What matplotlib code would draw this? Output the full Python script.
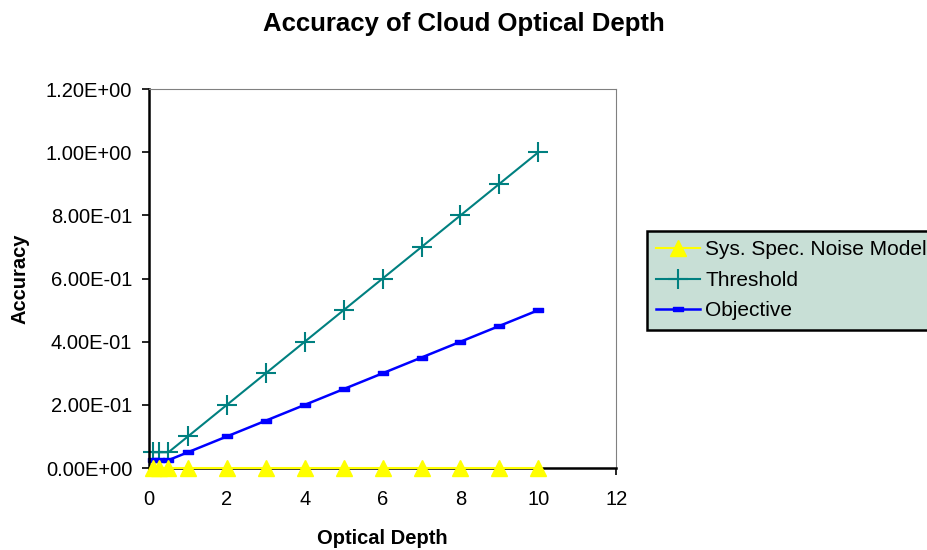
import numpy as np
import matplotlib
matplotlib.use('Agg')
import matplotlib.pyplot as plt
from matplotlib.ticker import FuncFormatter

plt.rcParams['font.family'] = ['Liberation Sans', 'DejaVu Sans']

depth = [0.1, 0.25, 0.5, 1, 2, 3, 4, 5, 6, 7, 8, 9, 10]
noise = [0.001] * 13
threshold = [0.05, 0.05, 0.05, 0.1, 0.2, 0.3, 0.4, 0.5, 0.6, 0.7, 0.8, 0.9, 1.0]
objective = [0.025, 0.025, 0.025, 0.05, 0.1, 0.15, 0.2, 0.25, 0.3, 0.35, 0.4, 0.45, 0.5]

fig = plt.figure(figsize=(9.27, 5.5), dpi=100)
ax = fig.add_axes([0.1607, 0.149, 0.504, 0.689])

rect = [(-1, -0.4), (1, -0.4), (1, 0.4), (-1, 0.4), (-1, -0.4)]
ax.plot(depth, noise, color='#FFFF00', marker='^', markersize=12, lw=1.5,
        label='Sys. Spec. Noise Model', clip_on=False, zorder=3)
ax.plot(depth, threshold, color='#008080', marker='+', markersize=14, mew=1.5, lw=1.5,
        label='Threshold', clip_on=False)
ax.plot(depth, objective, color='#0000FF', marker=rect, markersize=7, lw=1.8,
        label='Objective', clip_on=False)

ax.set_xlim(0, 12)
ax.set_ylim(0, 1.2)
ax.set_xticks(np.arange(0, 13, 2))
ax.set_yticks(np.arange(0, 1.21, 0.2))
ax.yaxis.set_major_formatter(FuncFormatter(lambda v, p: ('%.2E' % v)))
ax.tick_params(direction='out', length=5, width=1.2, labelsize=14.5, colors='black')
ax.tick_params(axis='y', pad=7)
ax.tick_params(axis='x', pad=11)
for s in ['top', 'right']:
    ax.spines[s].set_color('#808080')
for s in ['left', 'bottom']:
    ax.spines[s].set_linewidth(1.8)

ax.set_xlabel('Optical Depth', fontsize=14.5, fontweight='bold', labelpad=14)
ax.set_ylabel('Accuracy', fontsize=14.5, fontweight='bold', labelpad=12)
fig.suptitle('Accuracy of Cloud Optical Depth', fontsize=18.5, fontweight='bold', y=0.978)

leg = fig.legend(loc='upper left', bbox_to_anchor=(0.698, 0.58), fontsize=15,
                 frameon=True, fancybox=False, borderpad=0.45, labelspacing=0.55,
                 handlelength=2.1, handletextpad=0.25, borderaxespad=0)
leg.get_frame().set_facecolor('#C8DFD6')
leg.get_frame().set_edgecolor('black')
leg.get_frame().set_linewidth(1.8)
leg.get_frame().set_alpha(1)

fig.savefig('out.png', dpi=100)
